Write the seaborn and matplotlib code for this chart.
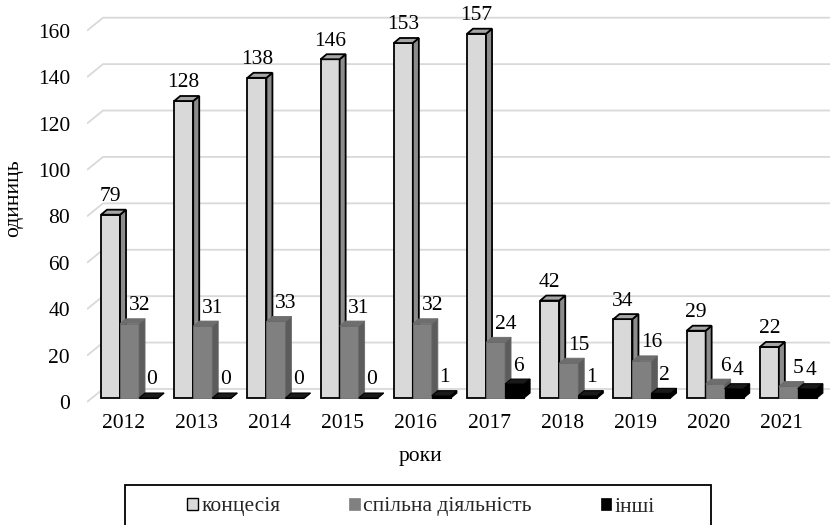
import numpy as np
import pandas as pd
import seaborn as sns
import matplotlib
matplotlib.use("Agg")
import matplotlib.pyplot as plt
from matplotlib.patches import Polygon, Rectangle, Patch

years = ["2012", "2013", "2014", "2015", "2016", "2017", "2018", "2019", "2020", "2021"]
series_names = ["концесія", "спільна діяльність", "інші"]
concession = [79, 128, 138, 146, 153, 157, 42, 34, 29, 22]
joint_activity = [32, 31, 33, 31, 32, 24, 15, 16, 6, 5]
other = [0, 0, 0, 0, 1, 6, 1, 2, 4, 4]
y_ticks = [0, 20, 40, 60, 80, 100, 120, 140, 160]

df = pd.DataFrame({
    "рік": years * 3,
    "тип": [series_names[0]] * 10 + [series_names[1]] * 10 + [series_names[2]] * 10,
    "кількість": concession + joint_activity + other,
})

sns.set_theme(style="white")
plt.rcParams["font.family"] = ["Liberation Serif", "DejaVu Serif"]
FS = 15.5

front_colors = ["#d9d9d9", "#808080", "#000000"]
side_colors = ["#8c8c8c", "#5c5c5c", "#000000"]
top_colors = ["#a6a6a6", "#6e6e6e", "#1a1a1a"]
edge_colors = ["#000000", "#6a6a6a", "#000000"]
edge_widths = [1.3, 0.6, 0.8]
label_dx = [0.0, 0.135, 0.048]

fig = plt.figure(figsize=(8.3, 5.25), dpi=100)
ax = fig.add_axes([87 / 830, (525 - 407.3) / 525, 743 / 830, 399.1 / 525])

sns.barplot(data=df, x="рік", y="кількість", hue="тип", hue_order=series_names,
            order=years, palette=front_colors, width=0.779, ax=ax,
            legend=False, saturation=1)

x_left, x_right = -0.492, 9.658
ax.set_xlim(x_left, x_right)
ax.set_ylim(-4, 168)

# oblique depth of each column and of the back wall
bar_dx, bar_dy = 0.082, 2.16
wall_dx, wall_dy = 0.219, 5.6
front_off = -1.7

# gridlines on the side and back walls
for v in y_ticks:
    yf = v + front_off
    yw = yf + wall_dy
    ax.plot([x_left, x_left + wall_dx, x_right], [yf, yw, yw],
            color="#d9d9d9", lw=1.3, zorder=1, solid_capstyle="butt")

shift = 0.089
for k, cont in enumerate(ax.containers):
    for bar in cont:
        x0 = bar.get_x() + shift
        bar.set_x(x0)
        w = bar.get_width()
        h = bar.get_height()
        z = 3 + k
        bar.set_zorder(z)
        bar.set_edgecolor(edge_colors[k])
        bar.set_linewidth(edge_widths[k])
        side = Polygon([(x0 + w, 0), (x0 + w + bar_dx, bar_dy),
                        (x0 + w + bar_dx, h + bar_dy), (x0 + w, h)],
                       closed=True, facecolor=side_colors[k],
                       edgecolor=edge_colors[k], lw=edge_widths[k], zorder=z)
        top = Polygon([(x0, h), (x0 + bar_dx, h + bar_dy),
                       (x0 + w + bar_dx, h + bar_dy), (x0 + w, h)],
                      closed=True, facecolor=top_colors[k],
                      edgecolor=edge_colors[k], lw=edge_widths[k], zorder=z)
        ax.add_patch(side)
        ax.add_patch(top)
        ax.annotate(f"{h:.0f}", xy=(x0 + w / 2 + label_dx[k], h),
                    xytext=(0, 13), textcoords="offset points",
                    ha="center", va="center", fontsize=FS, color="#000000",
                    zorder=10)

ax.set_yticks([v + front_off for v in y_ticks])
ax.set_yticklabels([str(v) for v in y_ticks])
ax.tick_params(axis="y", length=0, pad=12.2, labelsize=FS, colors="#000000")
ax.tick_params(axis="x", length=0, pad=5.0, labelsize=FS, colors="#000000")
for s in ax.spines.values():
    s.set_visible(False)
ax.grid(False)

ax.set_xlabel("роки", fontsize=FS, color="#000000")
ax.xaxis.set_label_coords(0.4495, -0.100)
ax.set_ylabel("одиниць", fontsize=FS, color="#000000")
ax.yaxis.set_label_coords(-0.0855, 0.525)

# legend box and entries
fig.add_artist(Rectangle((125 / 830, -0.05), (711 - 125) / 830, (1 - 485 / 525) + 0.05,
                         transform=fig.transFigure, fill=False,
                         edgecolor="#000000", lw=1.3, clip_on=False))
handles = [Patch(facecolor=front_colors[0], edgecolor="#000000", lw=1.0),
           Patch(facecolor=front_colors[1], edgecolor=front_colors[1], lw=0.5),
           Patch(facecolor=front_colors[2], edgecolor=front_colors[2], lw=0.5)]
fig.legend(handles, series_names, loc="center", ncol=3,
           bbox_to_anchor=(421 / 830, 1 - 507 / 525), bbox_transform=fig.transFigure,
           frameon=False, fontsize=FS, handlelength=0.5, handleheight=0.5,
           handletextpad=0.15, columnspacing=3.2)

fig.savefig("out.png", dpi=100)
